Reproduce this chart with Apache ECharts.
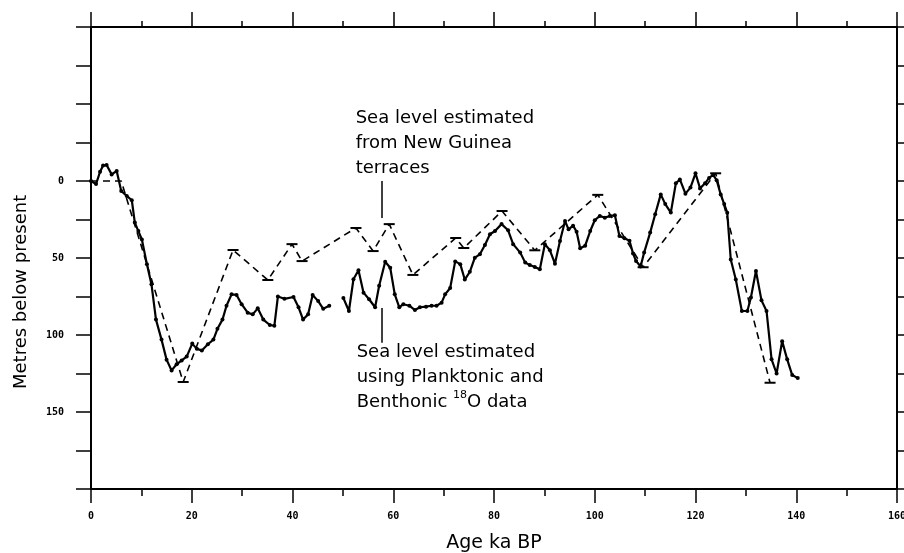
<!DOCTYPE html>
<html>
<head>
<meta charset="utf-8">
<title>Sea level estimates</title>
<script src="https://cdn.jsdelivr.net/npm/echarts@6/dist/echarts.min.js"></script>
<style>
  html, body { margin: 0; padding: 0; background: #fff; }
  #chart { width: 904px; height: 553px; }
</style>
</head>
<body>
<div id="chart"></div>
<script>
// solid curve: sea level from planktonic + benthonic 18O (null = gap in record)
var ageSolid = [0, 1, 1.8, 2.4, 3.1, 4.1, 5.1, 6, 7.1, 8.1, 8.7, 9.4, 10.1, 11.1, 12, 12.9, 14, 15, 16, 17, 18, 19,
  20.1, 21, 22, 23.2, 24.3, 25.1, 26.1, 26.9, 27.9, 28.9, 29.9, 31.1, 32.1, 33.1, 34.2, 35.5, 36.4, 37.1, 38.4,
  40.2, 41.2, 42.1, 43.1, 44, 45.1, 46.1, 47.3, 48.7, 50.1, 51.2, 52.1, 53.1, 54.1, 55.2, 56.4, 57.2, 58.4, 59.4,
  60.3, 61.2, 62, 63.2, 64.3, 65.3, 66.5, 67.6, 68.6, 69.6, 70.3, 71.3, 72.3, 73.3, 74.2, 75.2, 76.2, 77.2, 78.2,
  79.2, 80.2, 81.5, 82.8, 83.8, 85.2, 86.2, 87.1, 88.1, 89.1, 90.1, 91.1, 92.1, 93.1, 94.1, 94.8, 95.7, 96.4,
  97.1, 98.1, 99.1, 100, 101, 102, 103, 104, 104.9, 105.9, 106.9, 107.6, 108.2, 109.1, 109.8, 111, 112, 113.1,
  114, 115.1, 116.1, 116.9, 118, 119, 120, 120.9, 121.9, 122.7, 123.5, 124.2, 125, 125.7, 126.3, 127, 128,
  129.2, 130.3, 131, 132, 133.1, 134.1, 135.1, 136.1, 137.2, 138.2, 139.2, 140.3];
var depthSolid = [0, 2, -6, -10, -10.4, -4.3, -6.5, 6.5, 9.7, 12.5, 27, 32.5, 38, 54, 67, 90, 103, 116, 123, 119, 116.5, 114,
  105.6, 109, 110, 106, 103, 96, 90, 81, 73.6, 74, 80, 85.5, 86.6, 82.7, 90, 93.5, 94, 75, 76.5,
  75.3, 82, 90, 86.6, 74, 78, 83, 81, null, 76, 84.4, 63.8, 58, 72.5, 76.8, 82, 68, 52.4, 56.3,
  73.6, 82, 80, 81, 83.8, 82, 81.6, 81, 81, 79, 73.6, 69.5, 52.2, 54, 64, 59, 49.8, 47.6, 41.6,
  34.6, 32.5, 28, 32, 41, 46.5, 53, 54.5, 55.8, 57.3, 41, 45, 53.7, 39, 26, 31.4, 29, 33,
  43.7, 42, 32.5, 25.5, 22.7, 23.8, 22.7, 22.3, 35.7, 37.2, 38.8, 47, 52, 55.5, 46.5, 33.5, 21.6, 8.7,
  15, 20.5, 1.5, -1, 8.2, 4.3, -5, 4.8, 1.5, -2, -4, -0.5, 8.7, 15, 20.6, 51, 64,
  84.4, 84.4, 75.7, 58.4, 77.5, 84.4, 115.8, 125, 104, 115.8, 126, 128];

// dashed curve: sea level from New Guinea terraces
var ageTerrace = [0, 6, 18.3, 28.2, 35.1, 39.9, 41.9, 52.6, 56, 59.2, 63.9, 72.4, 74, 81.6, 88.1, 100.6, 109.6, 124, 134.8];
var depthTerrace = [0, 0, 130.5, 44.8, 64.3, 41, 52, 30.5, 45.5, 28, 61, 37, 43.5, 19.5, 45, 9, 56, -5, 131];

var yLabels = [0, 50, 100, 150];

// annotation leaders, in data coords [age, depth]
var leaderTop = [[57.7, 0], [57.7, 24]];
var leaderBottom = [[57.7, 82.5], [57.7, 105]];

var solidData = [];
for (var i = 0; i < ageSolid.length; i++) {
  solidData.push([ageSolid[i], depthSolid[i] === null ? '-' : depthSolid[i]]);
}
var terraceData = [];
for (var j = 0; j < ageTerrace.length; j++) {
  terraceData.push({
    value: [ageTerrace[j], depthTerrace[j]],
    symbol: j < 2 ? 'none' : 'path://M0,0H10V2H0Z'
  });
}

var black = '#000';
var tickFont = { fontFamily: 'DejaVu Sans Mono', fontWeight: 'bold', fontSize: 10, color: black };

function xAx(pos, major, minor, labels) {
  return {
    type: 'value', position: pos, min: 0, max: 160, interval: 20,
    axisLine: { onZero: false, lineStyle: { color: black, width: 2 } },
    axisTick: { length: major, lineStyle: { color: black, width: 1.5 } },
    minorTick: { show: true, splitNumber: 2, length: minor, lineStyle: { color: black, width: 1.5 } },
    splitLine: { show: false },
    axisLabel: Object.assign({ show: labels, margin: 22 }, tickFont)
  };
}
function yAx(pos, tick, labels) {
  return {
    type: 'value', position: pos, inverse: true, min: -100, max: 200, interval: 25,
    axisLine: { onZero: false, lineStyle: { color: black, width: 2 } },
    axisTick: { length: tick, lineStyle: { color: black, width: 1.5 } },
    splitLine: { show: false },
    axisLabel: Object.assign({
      show: labels, margin: 27,
      formatter: function (v) { return yLabels.indexOf(v) >= 0 ? String(v) : ''; }
    }, tickFont)
  };
}

var bottomX = xAx('bottom', 14, 7, true);
bottomX.name = 'Age ka BP';
bottomX.nameLocation = 'middle';
bottomX.nameGap = 45;
bottomX.nameTextStyle = { fontFamily: 'DejaVu Sans', fontSize: 19, color: black };

var myChart = echarts.init(document.getElementById('chart'));
var option = {
  animation: false,
  backgroundColor: '#fff',
  grid: { left: 91, right: 7, top: 27, bottom: 64, containLabel: false, outerBoundsMode: 'none' },
  xAxis: [bottomX, xAx('top', 15, 6, false)],
  yAxis: [yAx('left', 15, true), yAx('right', 7, false)],
  series: [
    {
      name: 'oxygen isotope',
      type: 'line',
      data: solidData,
      connectNulls: false,
      symbol: 'circle',
      symbolSize: 4,
      showSymbol: true,
      itemStyle: { color: black },
      lineStyle: { color: black, width: 2.2 },
      markLine: {
        silent: true, symbol: 'none', label: { show: false },
        lineStyle: { color: black, width: 1.5, type: 'solid' },
        data: [
          [{ coord: leaderTop[0] }, { coord: leaderTop[1] }],
          [{ coord: leaderBottom[0] }, { coord: leaderBottom[1] }]
        ]
      }
    },
    {
      name: 'terraces',
      type: 'line',
      data: terraceData,
      symbolSize: [11, 2],
      itemStyle: { color: black },
      lineStyle: { color: black, width: 1.6, type: [7, 5] }
    }
  ]
};
myChart.setOption(option);

// annotations placed relative to the leader lines
var pTop = myChart.convertToPixel({ xAxisIndex: 0, yAxisIndex: 0 }, leaderTop[0]);
var pBot = myChart.convertToPixel({ xAxisIndex: 0, yAxisIndex: 0 }, leaderBottom[1]);
var annFont = { fontFamily: 'DejaVu Sans', fontSize: 18, fill: black, lineHeight: 25 };
myChart.setOption({
  graphic: [
    {
      type: 'text', rotation: Math.PI / 2, x: 12, y: 389,
      style: { text: 'Metres below present', fontFamily: 'DejaVu Sans', fontSize: 18, fill: black }
    },
    {
      type: 'text', x: pTop[0] - 26, y: pTop[1] - 75,
      style: Object.assign({ text: 'Sea level estimated\nfrom New Guinea\nterraces' }, annFont)
    },
    {
      type: 'text', x: pBot[0] - 25, y: pBot[1] - 3,
      style: Object.assign({
        text: 'Sea level estimated\nusing Planktonic and\nBenthonic {sup|18}O data',
        rich: { sup: { fontFamily: 'DejaVu Sans', fontSize: 11, verticalAlign: 'top', lineHeight: 25, padding: [0, 0, 8, 0] } }
      }, annFont)
    }
  ]
});
</script>
</body>
</html>
